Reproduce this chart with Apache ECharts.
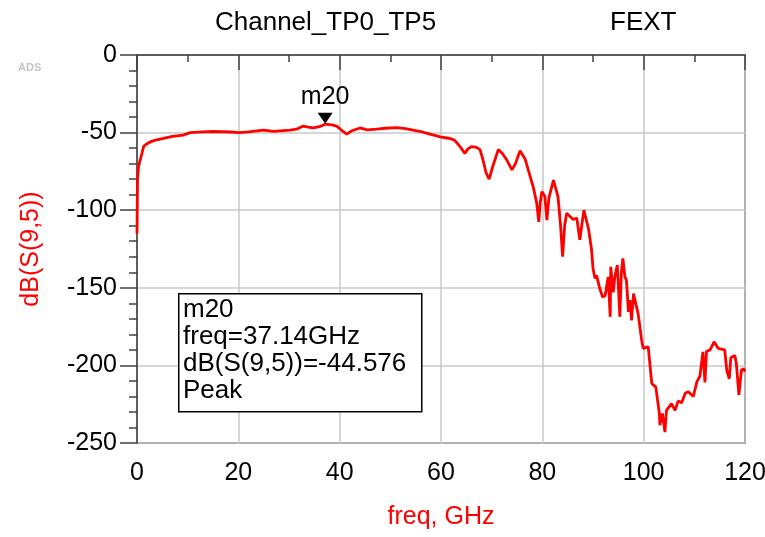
<!DOCTYPE html>
<html>
<head>
<meta charset="utf-8">
<script src="https://cdn.jsdelivr.net/npm/echarts@6/dist/echarts.min.js"></script>
<style>
  html, body { margin: 0; padding: 0; background: #fff; }
  #chart { width: 765px; height: 537px; }
</style>
</head>
<body>
<div id="chart"></div>
<script>
// freq in GHz, dB(S(9,5))
var freq = [0, 0.1, 0.3, 0.6, 1.0, 1.3, 1.8, 2.6, 3.5, 5.2, 7, 9.1, 10.5, 13, 15, 18.4, 20.3, 22, 24.9, 27,
    30.2, 31.5, 32.8, 33.8, 34.8, 36, 37.14, 38.5, 39.4, 40.4, 41.4, 42.3, 44, 45.5, 47.3, 49, 51.3, 53, 54.5, 56,
    57.8, 59, 59.8, 61.8, 62.7, 63.5, 64.3, 64.7, 65.3, 66.1, 67, 67.7, 68.3, 68.9, 69.5, 70.2, 71.3, 72, 73, 74,
    74.7, 75.6, 76.6, 77.3, 78.2, 78.9, 79.3, 79.6, 79.9, 80.5, 80.9, 81.3, 82.2, 83.1, 83.6, 84, 84.4, 84.8, 86.1, 86.8,
    87.4, 88.2, 89.1, 89.7, 90, 90.4, 90.7, 91.3, 91.9, 92.4, 92.7, 93, 93.4, 93.5, 94, 94.3, 94.8, 95.3, 95.6, 95.9,
    96.3, 96.6, 97, 97.3, 97.6, 98, 98.5, 98.9, 99.6, 99.9, 100.9, 101.6, 102.4, 103.1, 103.2, 103.7, 104.2, 104.5, 105.5, 106.2,
    106.8, 107.5, 108.2, 108.8, 109.8, 110.5, 111.1, 111.7, 112.1, 112.4, 113.1, 113.9, 114.7, 116, 116.4, 116.9, 117.2, 118, 118.3, 118.8,
    119.3, 119.7, 120];
var dB = [-115, -80, -72, -68, -63, -59, -57.5, -56, -55, -53.7, -52.5, -51.6, -50, -49.5, -49.3, -49.6, -50, -49.5, -48.4, -49.2,
    -48.4, -47.8, -45.8, -46.5, -47, -46.2, -44.576, -45, -45.8, -48.5, -51, -49, -47, -48.2, -47.7, -47.2, -46.8, -47.5, -48.4, -49.3,
    -51, -52, -52.7, -53.8, -55, -58, -61.5, -63.4, -60.5, -59, -59.5, -61, -67.7, -76, -80, -72, -61, -63, -67.7, -74,
    -70, -61.7, -67, -75, -85, -95.6, -107.5, -95, -88, -91, -106.4, -92, -80.6, -91.4, -110, -130, -110, -102, -106, -105,
    -119, -100, -111.8, -125, -137.5, -144, -142, -150, -156, -155, -154, -143, -168.7, -136.5, -153, -143, -135.4, -168.7, -140, -131,
    -143, -145, -165.5, -158, -171, -153.7, -161, -166.5, -183.8, -189, -188, -211.7, -214, -231, -238.6, -231, -243, -229, -224.6, -229,
    -223, -224, -218, -217, -220, -210.6, -207, -191.3, -211, -191, -190, -184.8, -189, -190, -203, -208.6, -195, -193.7, -199, -219,
    -203, -202, -204];

var markerName = 'm20';
var markerFreq = 37.14;
var markerVal = -44.576;
var markerLines = ['m20', 'freq=37.14GHz', 'dB(S(9,5))=-44.576', 'Peak'];

var xTicks = [0, 20, 40, 60, 80, 100, 120];
var yTicks = [0, -50, -100, -150, -200, -250];

var chart = echarts.init(document.getElementById('chart'));

var font = 'Arial, "Liberation Sans", sans-serif';
var axisColor = '#404040';

var option = {
    backgroundColor: '#fff',
    animation: false,
    textStyle: { fontFamily: font },
    title: [
        { text: 'Channel_TP0_TP5', left: 210, top: 5, textStyle: { fontSize: 26, fontWeight: 'normal', color: '#000', fontFamily: font } },
        { text: 'FEXT', left: 605, top: 5, textStyle: { fontSize: 26, fontWeight: 'normal', color: '#000', fontFamily: font } }
    ],
    grid: {
        left: 137, right: 20, top: 55, bottom: 94,
        show: true, borderColor: axisColor, borderWidth: 1.5,
        outerBoundsMode: 'none'
    },
    xAxis: {
        type: 'value',
        min: 0, max: 120, interval: 20,
        name: 'freq, GHz',
        nameLocation: 'middle',
        nameGap: 62,
        nameTextStyle: { color: '#ff0000', fontSize: 25, fontFamily: font },
        axisLine: { show: true, lineStyle: { color: axisColor, width: 1.5 } },
        axisTick: { show: true, length: 15, lineStyle: { color: axisColor, width: 1.5 } },
        minorTick: { show: true, splitNumber: 2, length: 7, lineStyle: { color: axisColor, width: 1.5 } },
        axisLabel: { color: '#000', fontSize: 25, margin: 18, fontFamily: font,
            formatter: function (v) { return xTicks.indexOf(v) >= 0 ? String(v) : ''; } },
        splitLine: { show: true, lineStyle: { color: '#c8c8c8', width: 1.5 } }
    },
    yAxis: {
        type: 'value',
        min: -250, max: 0, interval: 50,
        name: 'dB(S(9,5))',
        nameLocation: 'middle',
        nameGap: 93,
        nameTextStyle: { color: '#ff0000', fontSize: 25, fontFamily: font },
        axisLine: { show: true, lineStyle: { color: axisColor, width: 1.5 } },
        axisTick: { show: true, length: 17, lineStyle: { color: axisColor, width: 1.5 } },
        minorTick: { show: true, splitNumber: 5, length: 8, lineStyle: { color: axisColor, width: 1.5 } },
        axisLabel: { color: '#000', fontSize: 25, margin: 20, fontFamily: font,
            formatter: function (v) { return yTicks.indexOf(v) >= 0 ? String(v) : ''; } },
        splitLine: { show: true, lineStyle: { color: '#c8c8c8', width: 1.5 } }
    },
    series: [{
        type: 'line',
        data: freq.map(function (f, i) { return [f, dB[i]]; }),
        showSymbol: false,
        lineStyle: { color: '#ff0000', width: 2.8 },
        itemStyle: { color: '#ff0000' },
        markPoint: {
            symbol: 'triangle',
            symbolRotate: 180,
            symbolSize: [15, 11],
            symbolOffset: [0, -6],
            itemStyle: { color: '#000' },
            label: {
                show: true, position: 'top', distance: 3,
                formatter: markerName, color: '#000', fontSize: 25, fontFamily: font
            },
            data: [{ coord: [markerFreq, markerVal] }]
        }
    }],
    graphic: [
        {
            type: 'text', left: 18, top: 62,
            style: { text: 'ADS', fontSize: 11, fontWeight: 'bold', fill: '#c4c4c4', fontFamily: font }
        },
        {
            type: 'group', z: 100,
            children: [
                {
                    type: 'rect', left: 178, top: 293, z: 100,
                    shape: { width: 243, height: 118 },
                    style: { fill: '#fff', stroke: '#000', lineWidth: 1.5 }
                },
                {
                    type: 'text', left: 183, top: 296, z: 101,
                    style: { text: markerLines.join('\n'), fontSize: 26, lineHeight: 27, fill: '#000', fontFamily: font }
                }
            ]
        }
    ]
};

chart.setOption(option);
</script>
</body>
</html>
